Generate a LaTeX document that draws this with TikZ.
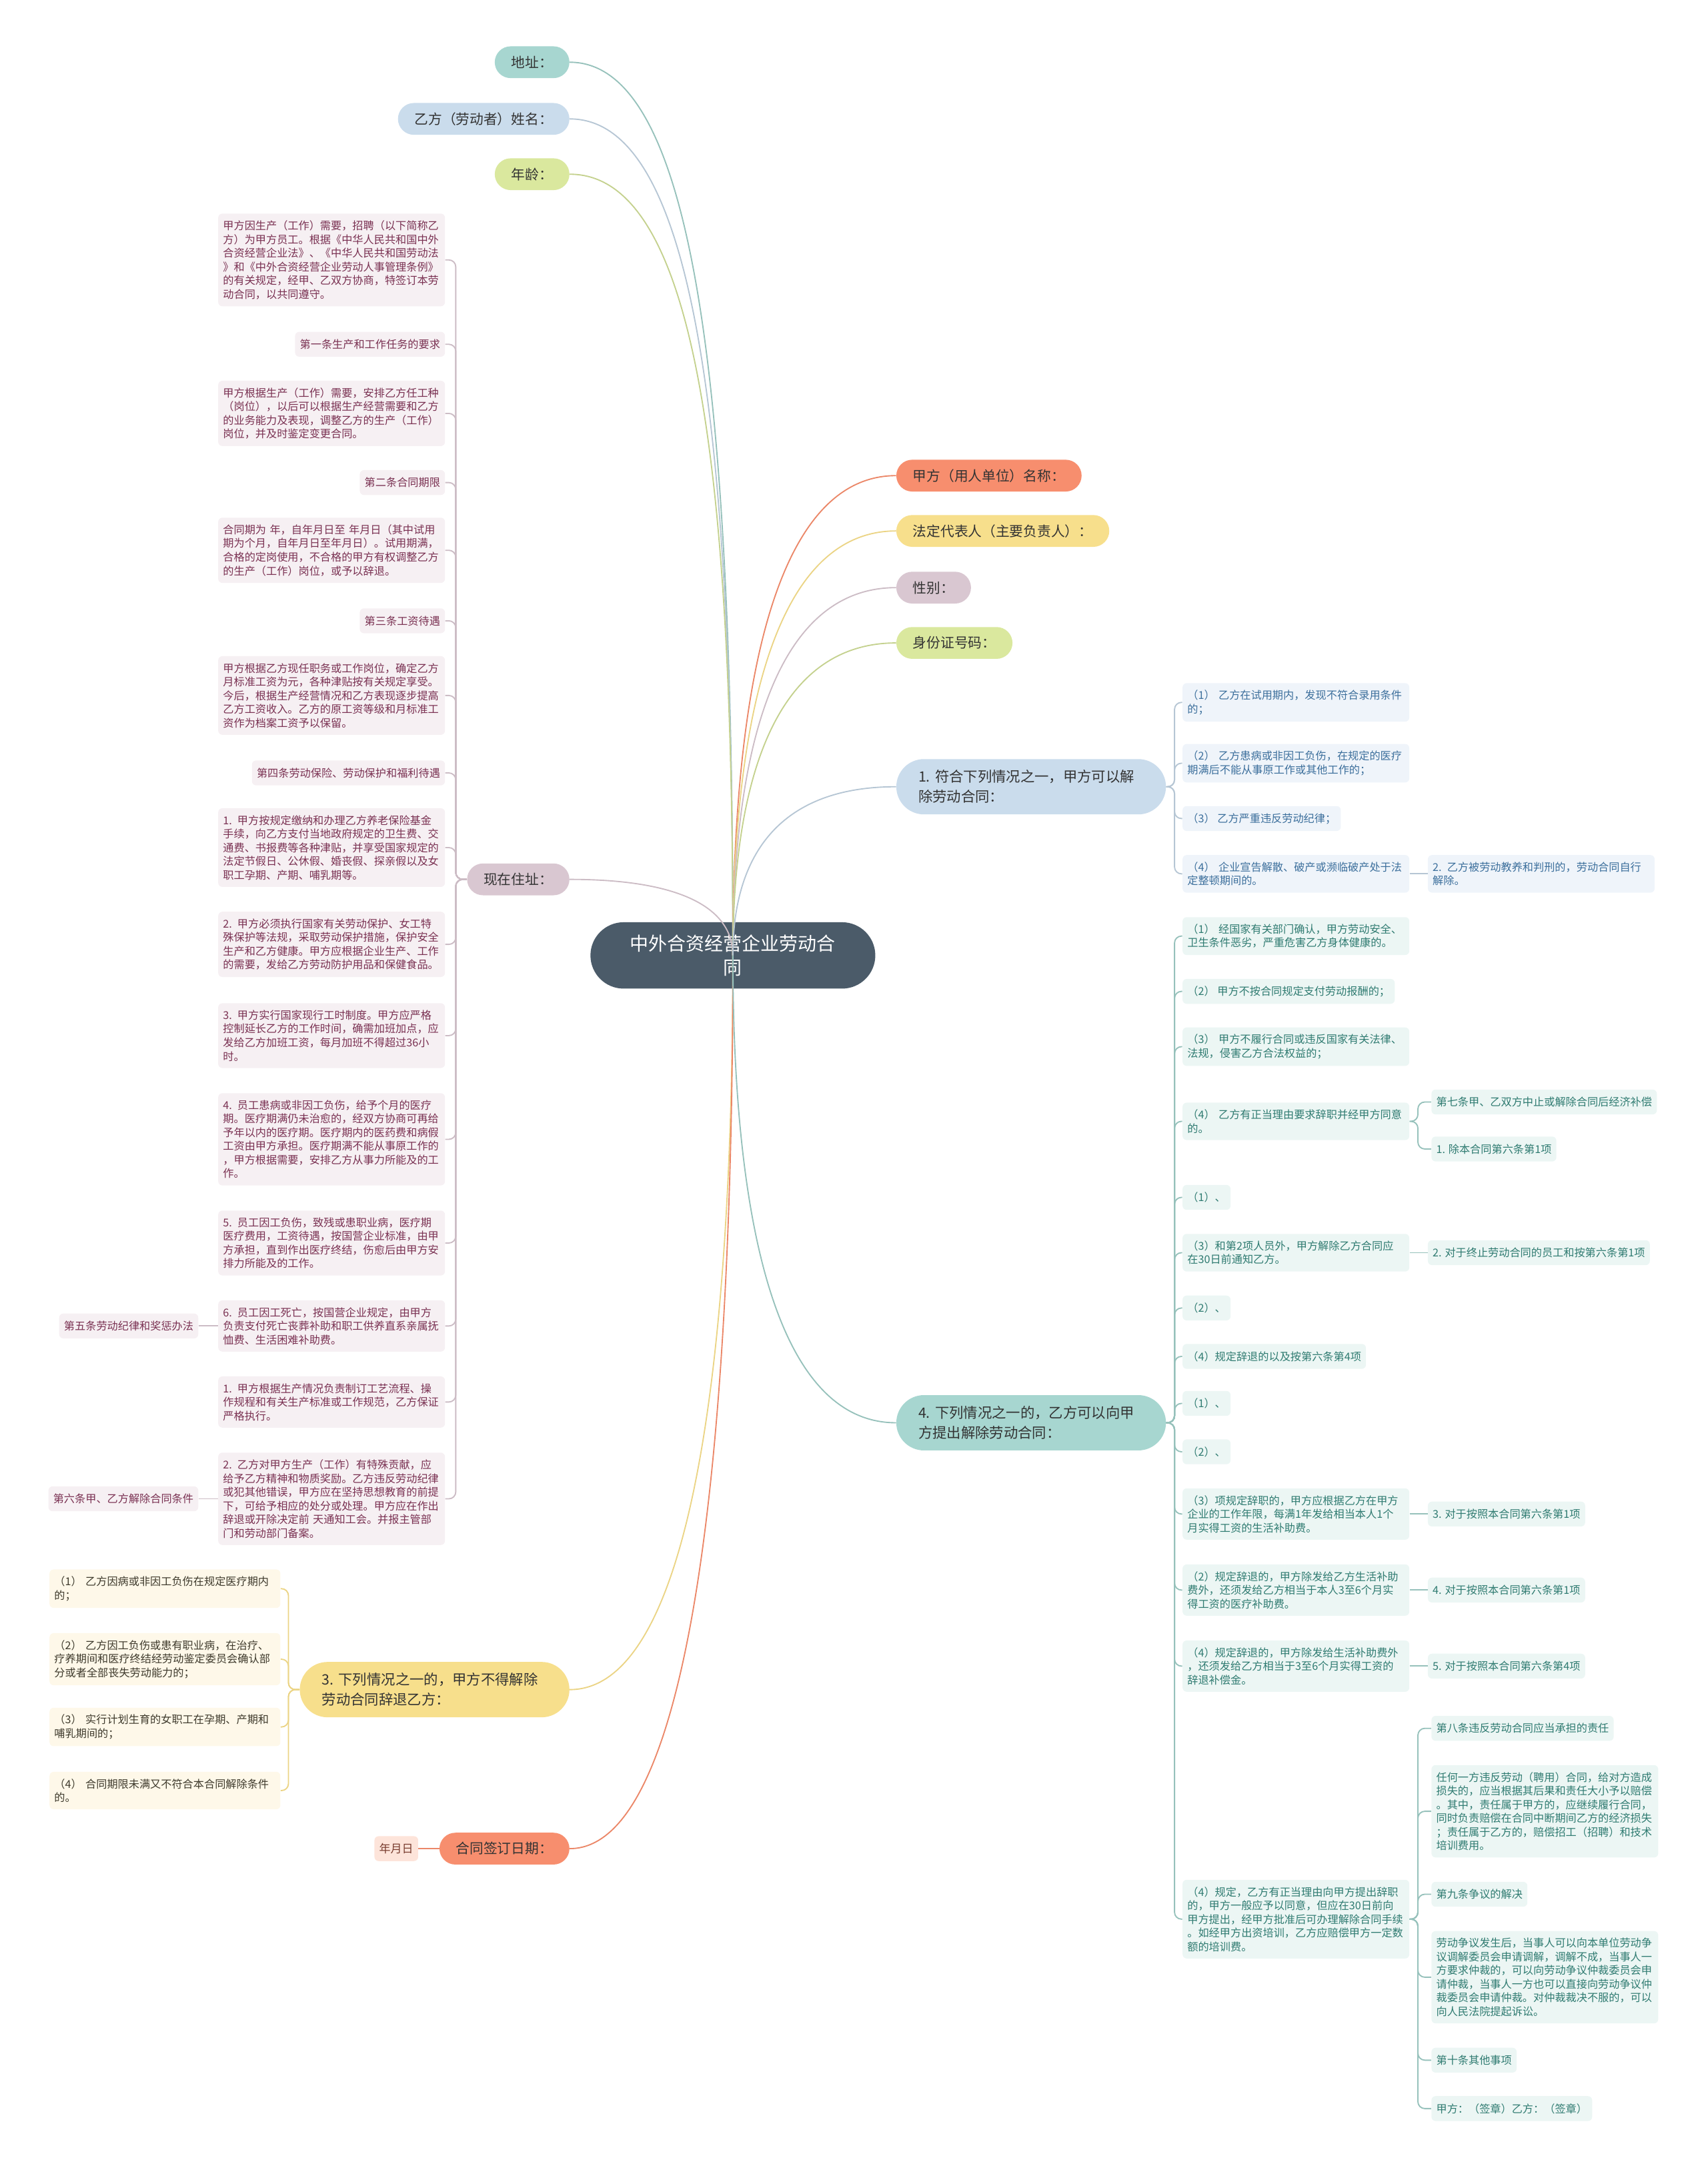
\documentclass[tikz,border=0pt]{standalone}
\usepackage{fontspec}
\setmainfont{Noto Sans CJK SC}
\usetikzlibrary{positioning}
\definecolor{rootGray}{HTML}{4B5B69}
\definecolor{tealBranch}{HTML}{A7D6D0}
\definecolor{blueBranch}{HTML}{CADCEC}
\definecolor{limeBranch}{HTML}{DAE89E}
\definecolor{mauveBranch}{HTML}{D9C7D1}
\definecolor{orangeBranch}{HTML}{F78E6E}
\definecolor{yellowBranch}{HTML}{F7DF8C}
\definecolor{mauveLeaf}{HTML}{F6F0F3}
\definecolor{tealLeaf}{HTML}{ECF6F4}
\definecolor{blueLeaf}{HTML}{EFF4FA}
\definecolor{yellowLeaf}{HTML}{FEF8E9}
\definecolor{orangeLeaf}{HTML}{FDE4DA}
\definecolor{mauveInk}{HTML}{7A3152}
\definecolor{tealInk}{HTML}{2F7B71}
\definecolor{blueInk}{HTML}{3C6F9C}
\definecolor{yellowInk}{HTML}{3E3A2C}
\definecolor{orangeInk}{HTML}{7A3E30}

\begin{document}
\begin{tikzpicture}[
  x=1pt, y=-1pt,
  hub/.style={rectangle, rounded corners=24pt, fill=rootGray, text=white, minimum width=206pt, minimum height=48pt, text width=180pt, align=center, inner sep=0pt, font=\fontsize{13.5}{17}\selectfont},
  pill/.style={rectangle, rounded corners=11.5pt, minimum height=23pt, inner xsep=12pt, inner ysep=3pt, text=black!80, font=\fontsize{10}{13}\selectfont},
  pilltwo/.style={pill, rounded corners=20pt, minimum height=40pt, text width=163pt, inner xsep=16pt, align=left, font=\fontsize{10.3}{14.5}\selectfont},
  leaf/.style={rectangle, rounded corners=3pt, minimum height=18pt, inner xsep=3.5pt, inner ysep=5pt, align=left, font=\fontsize{7.8}{9.9}\selectfont},
  wide/.style={text width=157pt},
  leafM/.style={leaf, fill=mauveLeaf, text=mauveInk},
  leafT/.style={leaf, fill=tealLeaf, text=tealInk},
  leafB/.style={leaf, fill=blueLeaf, text=blueInk},
  leafY/.style={leaf, fill=yellowLeaf, text=yellowInk, text width=160pt},
  wire/.style={line width=0.9pt, rounded corners=5pt},
  wireM/.style={wire, draw=mauveBranch!85!gray},
  wireT/.style={wire, draw=tealBranch!90!black},
  wireB/.style={wire, draw=blueBranch!90!black},
  wireY/.style={wire, draw=yellowBranch!95!black},
  wireO/.style={wire, draw=orangeBranch!95!black},
  wireL/.style={wire, draw=limeBranch!90!black}
]
\useasboundingbox (0,0) rectangle (1235,1568);

\node[hub] (hub) at (530,691) {中外合资经营企业劳动合\\同};

\node[pill, fill=tealBranch, anchor=east] (adr) at (412,45) {地址：};
\node[pill, fill=blueBranch, anchor=east] (name) at (412,86) {乙方（劳动者）姓名：};
\node[pill, fill=limeBranch, anchor=east] (age) at (412,126) {年龄：};
\node[pill, fill=mauveBranch, anchor=east] (home) at (412,636) {现在住址：};
\node[pilltwo, fill=yellowBranch, anchor=east] (ban) at (412,1222) {3.~下列情况之一的，甲方不得解除\\劳动合同辞退乙方：};
\node[pill, fill=orangeBranch, anchor=east] (date) at (412,1337) {合同签订日期：};
\node[pill, fill=orangeBranch, anchor=west] (firm) at (648,344) {甲方（用人单位）名称：};
\node[pill, fill=yellowBranch, anchor=west] (rep) at (648,384) {法定代表人（主要负责人）：};
\node[pill, fill=mauveBranch, anchor=west] (sex) at (648,425) {性别：};
\node[pill, fill=limeBranch, anchor=west] (idno) at (648,465) {身份证号码：};
\node[pilltwo, fill=blueBranch, anchor=west] (fire) at (648,569) {1.~符合下列情况之一，甲方可以解\\除劳动合同：};
\node[pilltwo, fill=tealBranch, anchor=west] (quit) at (648,1029) {4.~下列情况之一的，乙方可以向甲\\方提出解除劳动合同：};

\node[leafM, wide, anchor=east] (k1) at (322,188) {甲方因生产（工作）需要，招聘（以下简称乙\\方）为甲方员工。根据《中华人民共和国中外\\合资经营企业法》、《中华人民共和国劳动法\\》和《中外合资经营企业劳动人事管理条例》\\的有关规定，经甲、乙双方协商，特签订本劳\\动合同，以共同遵守。};
\node[leafM, anchor=east] (k2) at (322,249) {第一条生产和工作任务的要求};
\node[leafM, wide, anchor=east] (k3) at (322,299) {甲方根据生产（工作）需要，安排乙方任工种\\（岗位），以后可以根据生产经营需要和乙方\\的业务能力及表现，调整乙方的生产（工作）\\岗位，并及时鉴定变更合同。};
\node[leafM, anchor=east] (k4) at (322,349) {第二条合同期限};
\node[leafM, wide, anchor=east] (k5) at (322,398) {合同期为 年，自年月日至 年月日（其中试用\\期为个月，自年月日至年月日）。试用期满，\\合格的定岗使用，不合格的甲方有权调整乙方\\的生产（工作）岗位，或予以辞退。};
\node[leafM, anchor=east] (k6) at (322,449) {第三条工资待遇};
\node[leafM, wide, anchor=east] (k7) at (322,503) {甲方根据乙方现任职务或工作岗位，确定乙方\\月标准工资为元，各种津贴按有关规定享受。\\今后，根据生产经营情况和乙方表现逐步提高\\乙方工资收入。乙方的原工资等级和月标准工\\资作为档案工资予以保留。};
\node[leafM, anchor=east] (k8) at (322,559) {第四条劳动保险、劳动保护和福利待遇};
\node[leafM, wide, anchor=east] (k9) at (322,613) {1. 甲方按规定缴纳和办理乙方养老保险基金\\手续，向乙方支付当地政府规定的卫生费、交\\通费、书报费等各种津贴，并享受国家规定的\\法定节假日、公休假、婚丧假、探亲假以及女\\职工孕期、产期、哺乳期等。};
\node[leafM, wide, anchor=east] (k10) at (322,683) {2. 甲方必须执行国家有关劳动保护、女工特\\殊保护等法规，采取劳动保护措施，保护安全\\生产和乙方健康。甲方应根据企业生产、工作\\的需要，发给乙方劳动防护用品和保健食品。};
\node[leafM, wide, anchor=east] (k11) at (322,749) {3. 甲方实行国家现行工时制度。甲方应严格\\控制延长乙方的工作时间，确需加班加点，应\\发给乙方加班工资，每月加班不得超过36小\\时。};
\node[leafM, wide, anchor=east] (k12) at (322,824) {4. 员工患病或非因工负伤，给予个月的医疗\\期。医疗期满仍未治愈的，经双方协商可再给\\予年以内的医疗期。医疗期内的医药费和病假\\工资由甲方承担。医疗期满不能从事原工作的\\，甲方根据需要，安排乙方从事力所能及的工\\作。};
\node[leafM, wide, anchor=east] (k13) at (322,899) {5. 员工因工负伤，致残或患职业病，医疗期\\医疗费用，工资待遇，按国营企业标准，由甲\\方承担，直到作出医疗终结，伤愈后由甲方安\\排力所能及的工作。};
\node[leafM, wide, anchor=east] (k14) at (322,959) {6. 员工因工死亡，按国营企业规定，由甲方\\负责支付死亡丧葬补助和职工供养直系亲属抚\\恤费、生活困难补助费。};
\node[leafM, wide, anchor=east] (k15) at (322,1014) {1. 甲方根据生产情况负责制订工艺流程、操\\作规程和有关生产标准或工作规范，乙方保证\\严格执行。};
\node[leafM, wide, anchor=east] (k16) at (322,1084) {2. 乙方对甲方生产（工作）有特殊贡献，应\\给予乙方精神和物质奖励。乙方违反劳动纪律\\或犯其他错误，甲方应在坚持思想教育的前提\\下，可给予相应的处分或处理。甲方应在作出\\辞退或开除决定前 天通知工会。并报主管部\\门和劳动部门备案。};
\node[leafM, left=14pt of k14] (k14l) {第五条劳动纪律和奖惩办法};
\node[leafM, left=14pt of k16] (k16l) {第六条甲、乙方解除合同条件};

\node[leafY, anchor=east] (y1) at (203,1149) {（1） 乙方因病或非因工负伤在规定医疗期内\\的；};
\node[leafY, anchor=east] (y2) at (203,1200) {（2） 乙方因工负伤或患有职业病，在治疗、\\疗养期间和医疗终结经劳动鉴定委员会确认部\\分或者全部丧失劳动能力的；};
\node[leafY, anchor=east] (y3) at (203,1249) {（3） 实行计划生育的女职工在孕期、产期和\\哺乳期间的；};
\node[leafY, anchor=east] (y4) at (203,1295) {（4） 合同期限未满又不符合本合同解除条件\\的。};
\node[leaf, fill=orangeLeaf, text=orangeInk, left=15pt of date, font=\fontsize{8.2}{10}\selectfont] (ymd) {年月日};

\node[leafB, wide, anchor=west] (b1) at (855,508) {（1） 乙方在试用期内，发现不符合录用条件\\的；};
\node[leafB, wide, anchor=west] (b2) at (855,552) {（2） 乙方患病或非因工负伤，在规定的医疗\\期满后不能从事原工作或其他工作的；};
\node[leafB, anchor=west] (b3) at (855,592) {（3） 乙方严重违反劳动纪律；};
\node[leafB, wide, anchor=west] (b4) at (855,632) {（4） 企业宣告解散、破产或濒临破产处于法\\定整顿期间的。};
\node[leafB, wide, right=13pt of b4] (b4a) {2. 乙方被劳动教养和判刑的，劳动合同自行\\解除。};

\node[leafT, wide, anchor=west] (t1) at (855,677) {（1） 经国家有关部门确认，甲方劳动安全、\\卫生条件恶劣，严重危害乙方身体健康的。};
\node[leafT, anchor=west] (t2) at (855,717) {（2） 甲方不按合同规定支付劳动报酬的；};
\node[leafT, wide, anchor=west] (t3) at (855,757) {（3） 甲方不履行合同或违反国家有关法律、\\法规，侵害乙方合法权益的；};
\node[leafT, wide, anchor=west] (t4) at (855,811) {（4） 乙方有正当理由要求辞职并经甲方同意\\的。};
\node[leafT, anchor=west] (t4a) at (1035,797) {第七条甲、乙双方中止或解除合同后经济补偿};
\node[leafT, anchor=west] (t4b) at (1035,831) {1. 除本合同第六条第1项};
\node[leafT, anchor=west] (t5) at (855,866) {（1）、};
\node[leafT, wide, anchor=west] (t6) at (855,906) {（3）和第2项人员外，甲方解除乙方合同应\\在30日前通知乙方。};
\node[leafT, right=13pt of t6] (t6a) {2. 对于终止劳动合同的员工和按第六条第1项};
\node[leafT, anchor=west] (t7) at (855,946) {（2）、};
\node[leafT, anchor=west] (t8) at (855,981) {（4）规定辞退的以及按第六条第4项};
\node[leafT, anchor=west] (t9) at (855,1015) {（1）、};
\node[leafT, anchor=west] (t10) at (855,1050) {（2）、};
\node[leafT, wide, anchor=west] (t11) at (855,1095) {（3）项规定辞职的，甲方应根据乙方在甲方\\企业的工作年限，每满1年发给相当本人1个\\月实得工资的生活补助费。};
\node[leafT, right=13pt of t11] (t11a) {3. 对于按照本合同第六条第1项};
\node[leafT, wide, anchor=west] (t12) at (855,1150) {（2）规定辞退的，甲方除发给乙方生活补助\\费外，还须发给乙方相当于本人3至6个月实\\得工资的医疗补助费。};
\node[leafT, right=13pt of t12] (t12a) {4. 对于按照本合同第六条第1项};
\node[leafT, wide, anchor=west] (t13) at (855,1205) {（4）规定辞退的，甲方除发给生活补助费外\\，还须发给乙方相当于3至6个月实得工资的\\辞退补偿金。};
\node[leafT, right=13pt of t13] (t13a) {5. 对于按照本合同第六条第4项};
\node[leafT, wide, anchor=west] (t14) at (855,1388) {（4）规定，乙方有正当理由向甲方提出辞职\\的，甲方一般应予以同意，但应在30日前向\\甲方提出，经甲方批准后可办理解除合同手续\\。如经甲方出资培训，乙方应赔偿甲方一定数\\额的培训费。};
\node[leafT, anchor=west] (t14a) at (1035,1250) {第八条违反劳动合同应当承担的责任};
\node[leafT, wide, anchor=west] (t14b) at (1035,1310) {任何一方违反劳动（聘用）合同，给对方造成\\损失的，应当根据其后果和责任大小予以赔偿\\。其中，责任属于甲方的，应继续履行合同，\\同时负责赔偿在合同中断期间乙方的经济损失\\；责任属于乙方的，赔偿招工（招聘）和技术\\培训费用。};
\node[leafT, anchor=west] (t14c) at (1035,1370) {第九条争议的解决};
\node[leafT, wide, anchor=west] (t14d) at (1035,1430) {劳动争议发生后，当事人可以向本单位劳动争\\议调解委员会申请调解，调解不成，当事人一\\方要求仲裁的，可以向劳动争议仲裁委员会申\\请仲裁，当事人一方也可以直接向劳动争议仲\\裁委员会申请仲裁。对仲裁裁决不服的，可以\\向人民法院提起诉讼。};
\node[leafT, anchor=west] (t14e) at (1035,1490) {第十条其他事项};
\node[leafT, anchor=west] (t14f) at (1035,1525) {甲方：（签章）乙方：（签章）};

\draw[wireT] (hub.center) .. controls (530,303) and (506,45) .. (adr.east);
\draw[wireB] (hub.center) .. controls (530,328) and (506,86) .. (name.east);
\draw[wireL] (hub.center) .. controls (530,352) and (506,126) .. (age.east);
\draw[wireM] (hub.center) .. controls (530,658) and (495,636) .. (home.east);
\draw[wireY] (hub.center) .. controls (530,1009) and (495,1222) .. (ban.east);
\draw[wireO] (hub.center) .. controls (530,1078) and (495,1337) .. (date.east);
\draw[wireO] (hub.center) .. controls (530,482) and (565,344) .. (firm.west);
\draw[wireY] (hub.center) .. controls (530,506) and (565,384) .. (rep.west);
\draw[wireM] (hub.center) .. controls (530,531) and (565,425) .. (sex.west);
\draw[wireL] (hub.center) .. controls (530,555) and (565,465) .. (idno.west);
\draw[wireB] (hub.center) .. controls (530,617) and (565,569) .. (fire.west);
\draw[wireT] (hub.center) .. controls (530,895) and (565,1029) .. (quit.west);

\foreach \k in {k1,k2,k3,k4,k5,k6,k7,k8,k9,k10,k11,k12,k13,k14,k15,k16}
  \draw[wireM] (home.west) -- ++(-8,0) |- (\k.east);
\draw[wireM] (k14.west) -- (k14l.east);
\draw[wireM] (k16.west) -- (k16l.east);

\foreach \k in {y1,y2,y3,y4}
  \draw[wireY] (ban.west) -- ++(-8,0) |- (\k.east);
\draw[wireO] (date.west) -- (ymd.east);

\foreach \k in {b1,b2,b3,b4}
  \draw[wireB] (fire.east) -- ++(6,0) |- (\k.west);
\draw[wireB] (b4.east) -- (b4a.west);

\foreach \k in {t1,t2,t3,t4,t5,t6,t7,t8,t9,t10,t11,t12,t13,t14}
  \draw[wireT] (quit.east) -- ++(6,0) |- (\k.west);
\foreach \k in {t4a,t4b}
  \draw[wireT] (t4.east) -- ++(6,0) |- (\k.west);
\draw[wireT] (t6.east) -- (t6a.west);
\draw[wireT] (t11.east) -- (t11a.west);
\draw[wireT] (t12.east) -- (t12a.west);
\draw[wireT] (t13.east) -- (t13a.west);
\foreach \k in {t14a,t14b,t14c,t14d,t14e,t14f}
  \draw[wireT] (t14.east) -- ++(6,0) |- (\k.west);
\end{tikzpicture}
\end{document}
